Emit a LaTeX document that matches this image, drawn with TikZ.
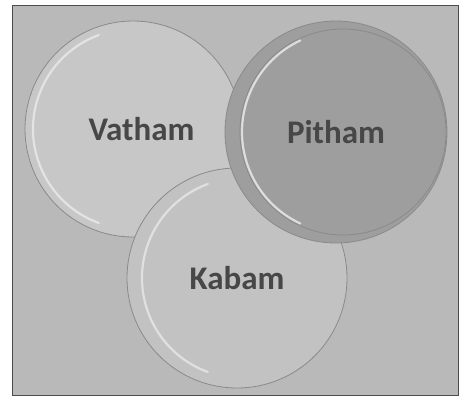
\documentclass[tikz,border=0pt]{standalone}
\usepackage{fontspec}
\setmainfont{Carlito}
\usepackage{xcolor}
\usetikzlibrary{positioning}

\definecolor{panelgray}{HTML}{B9B9B9}
\definecolor{vathamgray}{HTML}{C7C7C7}
\definecolor{pithamgray}{HTML}{9E9E9E}
\definecolor{kabamgray}{HTML}{C2C2C2}
\definecolor{rimgray}{HTML}{8A8A8A}
\definecolor{labelgray}{HTML}{474747}

\begin{document}
\begin{tikzpicture}[
  x=1pt, y=-1pt,
  bubble/.style={circle, draw=rimgray, line width=0.8pt, inner sep=0pt},
  label text/.style={font=\bfseries\fontsize{33}{33}\selectfont, text=labelgray},
  shine/.style={draw=white, line width=2.2pt, draw opacity=0.5, line cap=round}
]
  \useasboundingbox (0,0) rectangle (463,405);
  \draw[black!70, fill=panelgray, line width=1pt] (12,5) rectangle (458,395);

  % three overlapping bubbles
  \node[bubble, fill=vathamgray, minimum size=216pt] (vatham) at (133,129) {};
  \draw[shine] (vatham.center) ++(110:100) arc (110:250:100);
  \node[label text, right=-48pt of vatham.center] (vathamtext) {Vatham};

  \node[bubble, fill=kabamgray, minimum size=220pt] (kabam) at (237,278) {};
  \draw[shine] ([xshift=5pt]kabam.center) ++(110:100) arc (110:250:100);
  \node[label text] (kabamtext) at (kabam.center) {Kabam};

  \node[bubble, fill=pithamgray, minimum size=222pt] (pitham) at (336,132) {};
  \draw[rimgray, line width=0.8pt] ([xshift=7pt]pitham.center) circle (103);
  \draw[shine, draw opacity=0.65] ([xshift=7pt]pitham.center) ++(115:101) arc (115:245:101);
  \node[label text] (pithamtext) at (pitham.center) {Pitham};
\end{tikzpicture}
\end{document}
